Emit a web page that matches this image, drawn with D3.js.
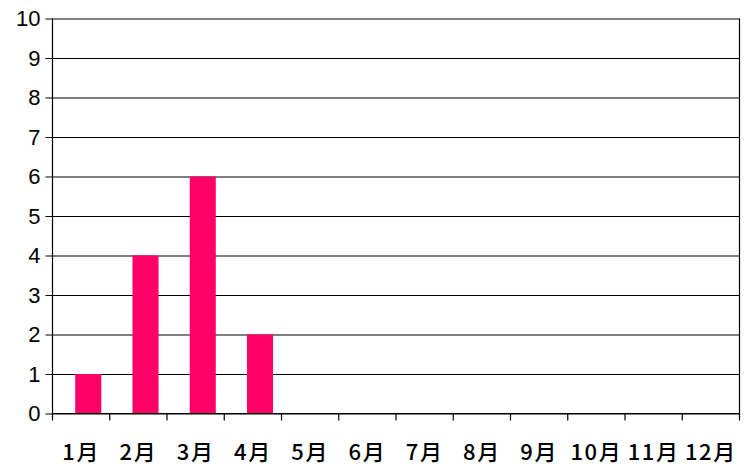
<!DOCTYPE html>
<html lang="ja">
<head>
<meta charset="UTF-8">
<title>月別</title>
<script src="https://d3js.org/d3.v7.min.js"></script>
<style>
  body { margin: 0; background: #fff; }
</style>
</head>
<body>
<div id="chart"></div>
<script>
  // data
  var months = ["1月", "2月", "3月", "4月", "5月", "6月", "7月", "8月", "9月", "10月", "11月", "12月"];
  var counts = [1, 4, 6, 2, 0, 0, 0, 0, 0, 0, 0, 0];
  var yTicks = [0, 1, 2, 3, 4, 5, 6, 7, 8, 9, 10];

  var W = 749, H = 471;
  var margin = {top: 18.5, right: 9.5, bottom: 57.5, left: 52.5},
      width = W - margin.left - margin.right,
      height = H - margin.top - margin.bottom;

  var svg = d3.select("#chart")
      .append("svg")
      .attr("width", W)
      .attr("height", H)
      .append("g")
      .attr("transform", "translate(" + margin.left + "," + margin.top + ")");

  var x = d3.scaleBand()
      .domain(months)
      .range([0, width]);

  var y = d3.scaleLinear()
      .domain([0, 10])
      .range([height, 0]);

  // grid lines + y axis
  var yAxis = svg.append("g")
      .call(d3.axisLeft(y).tickValues(yTicks).tickSize(-width).tickSizeOuter(0).tickPadding(12));
  yAxis.select(".domain").remove();
  yAxis.selectAll(".tick line")
      .attr("x1", -7)
      .attr("stroke", "#000")
      .attr("stroke-width", 1.2);
  yAxis.selectAll("text")
      .style("font-family", "'Liberation Sans', Arial, sans-serif")
      .style("font-size", "22px")
      .attr("fill", "#000");

  // bars (sit a little right of the band centre)
  svg.selectAll(".bar")
      .data(counts)
      .enter()
      .append("rect")
      .attr("class", "bar")
      .attr("x", function(d, i) { return x(months[i]) + x.bandwidth() * 0.397; })
      .attr("y", function(d) { return y(d); })
      .attr("width", x.bandwidth() * 0.455)
      .attr("height", function(d) { return height - y(d); })
      .attr("fill", "#ff0066");

  // left and right frame lines
  svg.append("line")
      .attr("x1", 0).attr("x2", 0)
      .attr("y1", 0).attr("y2", height)
      .attr("stroke", "#000").attr("stroke-width", 1.2);
  svg.append("line")
      .attr("x1", width).attr("x2", width)
      .attr("y1", 0).attr("y2", height)
      .attr("stroke", "#000").attr("stroke-width", 1.2);

  // x axis: ticks between categories
  var xg = svg.append("g")
      .attr("transform", "translate(0," + height + ")");
  xg.append("line")
      .attr("x1", 0).attr("x2", width)
      .attr("stroke", "#000").attr("stroke-width", 1.2);
  xg.selectAll(".xtick")
      .data(months.concat(["end"]))
      .enter()
      .append("line")
      .attr("class", "xtick")
      .attr("x1", function(d, i) { return i * x.step(); })
      .attr("x2", function(d, i) { return i * x.step(); })
      .attr("y1", 0).attr("y2", 7)
      .attr("stroke", "#000").attr("stroke-width", 1.2);
  xg.selectAll(".xlabel")
      .data(months)
      .enter()
      .append("text")
      .attr("class", "xlabel")
      .attr("x", function(d) { return x(d) + x.bandwidth() / 2; })
      .attr("y", 46)
      .attr("text-anchor", "middle")
      .style("font-family", "'Noto Sans CJK JP', sans-serif")
      .style("font-size", "22px")
      .style("font-weight", "500")
      .style("letter-spacing", "1.5px")
      .attr("fill", "#000")
      .text(function(d) { return d; });
</script>
</body>
</html>
